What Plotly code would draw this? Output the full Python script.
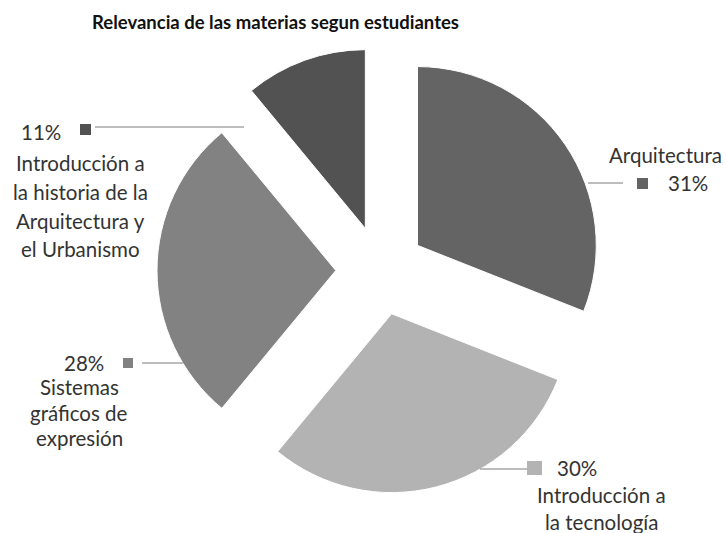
import plotly.graph_objects as go

# ---- data ----
labels = ["Arquitectura",
          "Introducción a la tecnología",
          "Sistemas gráficos de expresión",
          "Introducción a la historia de la Arquitectura y el Urbanismo"]
values = [31, 30, 28, 11]
colors = ["#646464", "#b3b3b3", "#828282", "#525252"]
label_lines = [["Arquitectura"],
               ["Introducción a", "la tecnología"],
               ["Sistemas", "gráficos de", "expresión"],
               ["Introducción a", "la historia de la", "Arquitectura y", "el Urbanismo"]]
title = "Relevancia de las materias segun estudiantes"

W, H = 726, 533
FONT = "Lato, sans-serif"


def px(x):
    return x / W


def py(y):
    return 1 - y / H


fig = go.Figure(go.Pie(
    labels=labels, values=values, sort=False, direction="clockwise", rotation=0,
    pull=[0.25] * len(values),
    marker=dict(colors=colors, line=dict(color="white", width=1)),
    textinfo="none", hoverinfo="label+percent",
    domain=dict(x=[px(157), px(604)], y=[py(494), py(47)]),
))

# label layout (pixel positions of decorations)
layout_spec = [
    # pct pos, square box, leader line, text-line x, text-line ys
    dict(pct=(688, 183), sq=(637, 178, 648, 189), line=(588, 623, 183), tx=665, ty=[155]),
    dict(pct=(577, 468), sq=(527, 461, 542, 475), line=(480, 527, 469), tx=601, ty=[495, 522]),
    dict(pct=(84, 363), sq=(123, 358, 133, 368), line=(142, 183, 363), tx=79, ty=[387, 413, 438]),
    dict(pct=(41, 132), sq=(80, 124, 91, 135), line=(95, 244, 127), tx=80, ty=[163, 192, 221, 249]),
]

annotations = []
shapes = []
tfont = dict(family=FONT, size=20.5, color="#333333")
for i, spec in enumerate(layout_spec):
    annotations.append(dict(x=px(spec["pct"][0]), y=py(spec["pct"][1]), xref="paper", yref="paper",
                            text=f"{values[i]}%", showarrow=False, font=tfont,
                            xanchor="center", yanchor="middle"))
    for t, yy in zip(label_lines[i], spec["ty"]):
        annotations.append(dict(x=px(spec["tx"]), y=py(yy), xref="paper", yref="paper",
                                text=t, showarrow=False, font=tfont,
                                xanchor="center", yanchor="middle"))
    x0, y0, x1, y1 = spec["sq"]
    shapes.append(dict(type="rect", xref="paper", yref="paper", x0=px(x0), x1=px(x1),
                       y0=py(y1), y1=py(y0), fillcolor=colors[i], line=dict(width=0)))
    lx0, lx1, ly = spec["line"]
    shapes.append(dict(type="line", xref="paper", yref="paper", x0=px(lx0), x1=px(lx1),
                       y0=py(ly), y1=py(ly), line=dict(color="#7a7a7a", width=1)))

annotations.append(dict(x=px(275), y=py(22), xref="paper", yref="paper", text=f"<b>{title}</b>",
                        showarrow=False, font=dict(family=FONT, size=18.5, color="#111111"),
                        xanchor="center", yanchor="middle"))

fig.update_layout(
    width=W, height=H, margin=dict(l=0, r=0, t=0, b=0),
    paper_bgcolor="white", plot_bgcolor="white", showlegend=False,
    annotations=annotations, shapes=shapes,
)

fig.write_html("out.html", config={"displayModeBar": False},
               post_script="document.body.style.margin='0';")
